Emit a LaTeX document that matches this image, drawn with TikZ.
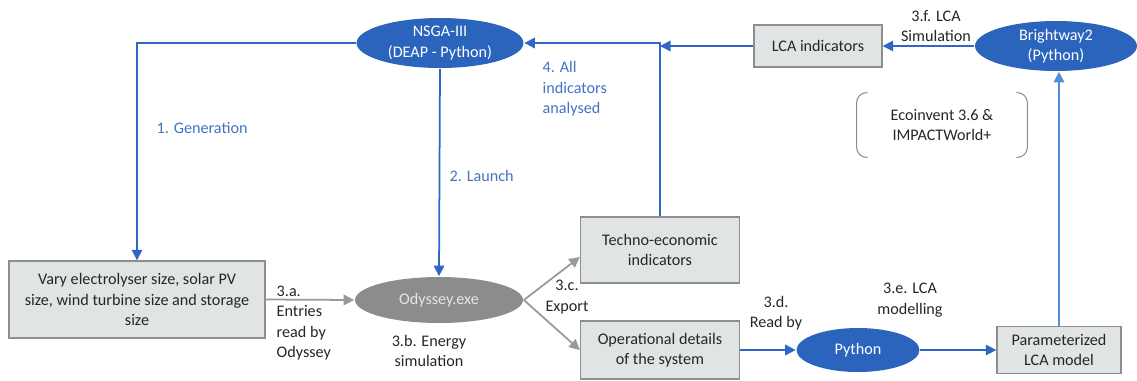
\documentclass[tikz,border=0pt]{standalone}
\usepackage{fontspec}
\setmainfont{Carlito}
\usetikzlibrary{shapes.geometric,arrows.meta}
\definecolor{darkblue}{HTML}{2B64BD}
\definecolor{lineblue}{HTML}{2F68C4}
\definecolor{lightblue}{HTML}{4F8FD6}
\definecolor{labelblue}{HTML}{4472C4}
\definecolor{odygrey}{HTML}{8C8C8C}
\definecolor{odytext}{HTML}{E6E6E6}
\definecolor{boxfill}{HTML}{E0E4E4}
\definecolor{boxline}{HTML}{8E8E8E}
\definecolor{arrowgrey}{HTML}{999999}
\definecolor{textgrey}{HTML}{262626}
\begin{document}
\begin{tikzpicture}[x=0.02cm, y=-0.02cm, line width=1pt, >={Triangle[length=6pt,width=6pt]},
blue node/.style={ellipse,fill=darkblue,text=white,inner sep=0pt,align=center},
grey node/.style={ellipse,fill=odygrey,text=odytext,inner sep=0pt},
box node/.style={rectangle,draw=boxline,fill=boxfill,line width=0.8pt,inner sep=0pt,align=center,text=textgrey},
blue line/.style={draw=lineblue},
light line/.style={draw=lightblue},
grey line/.style={draw=arrowgrey},
blue label/.style={text=labelblue,align=left},
every node/.style={font=\fontsize{9.2}{11.6}\selectfont,text=textgrey}]
\useasboundingbox (0,0) rectangle (1137,380);
\node[blue node,minimum width=3.34cm,minimum height=1cm] (v1) at (440,43) {NSGA-III\\(DEAP - Python)};
\node[grey node,minimum width=3.36cm,minimum height=0.92cm] (v2) at (439,300) {Odyssey.exe};
\node[box node,minimum width=5.12cm,minimum height=1.54cm] (v3) at (137,299.5) {Vary electrolyser size, solar PV\\size, wind turbine size and storage\\size};
\node[box node,minimum width=3.18cm,minimum height=1.32cm] (v4) at (660,250) {Techno-economic\\indicators};
\node[box node,minimum width=3.18cm,minimum height=1.16cm] (v5) at (660,350) {Operational details\\of the system};
\node[blue node,minimum width=2.46cm,minimum height=0.88cm] (v6) at (858,350) {Python};
\node[box node,minimum width=2.48cm,minimum height=0.94cm] (v7) at (1059,350) {Parameterized\\LCA model};
\node[blue node,minimum width=3.24cm,minimum height=1cm] (v8) at (1056,46) {Brightway2\\(Python)};
\node[box node,minimum width=2.56cm,minimum height=0.84cm] (v9) at (818,46) {LCA indicators};
\node[minimum width=3.38cm,minimum height=1.26cm,align=center] (v10) at (942,125) {Ecoinvent 3.6 \&\\IMPACTWorld+};
% labels
\node[blue label,anchor=west] (l1) at (150,128) {1. Generation};
\node[blue label,anchor=west] (l2) at (443,176) {2. Launch};
\node[blue label,anchor=west] (l4) at (536,89) {4. All\\indicators\\analysed};
\node[align=left,anchor=west] (l3a) at (270,323) {3.a.\\Entries\\read by\\Odyssey};
\node[align=center] (l3b) at (429,351) {3.b. Energy\\simulation};
\node[align=center] (l3c) at (567,297) {3.c.\\Export};
\node[align=center] (l3d) at (776,313) {3.d.\\Read by};
\node[align=center] (l3e) at (910,300) {3.e. LCA\\modelling};
\node[align=center] (l3f) at (936,26) {3.f. LCA\\Simulation};
% connectors
\draw [->,blue line] (v1.west) -| (v3.north);
\draw [->,blue line] (v1.south) -- (v2.north);
\draw [->,blue line] (v4.north) |- (v1.east);
\draw [->,blue line] (v9.west) -- (v9.west -| v4.north);
\draw [->,blue line] (v8.west) -- (v9.east);
\draw [->,light line] (v7.north) -- (v7.north |- v8.south);
\draw [->,grey line] (v3.east) -- (v2.west);
\draw [->,grey line] (v2.east) -- ([yshift=-0.14cm]v4.west);
\draw [->,grey line] (v2.east) -- (v5.west);
\draw [->,blue line] (v5.east) -- (v6.west);
\draw [->,blue line] (v6.east) -- (v7.west);
%\draw [boxline,line width=0.6pt] (v10.north west) rectangle (v10.south east);
\draw [boxline,line width=0.6pt,rounded corners=0.2cm] ([xshift=0.22cm]v10.north west) -- (v10.north west) -- (v10.south west) -- ([xshift=0.22cm]v10.south west);
\draw [boxline,line width=0.6pt,rounded corners=0.2cm] ([xshift=-0.22cm]v10.north east) -- (v10.north east) -- (v10.south east) -- ([xshift=-0.22cm]v10.south east);
\end{tikzpicture}
\end{document}
